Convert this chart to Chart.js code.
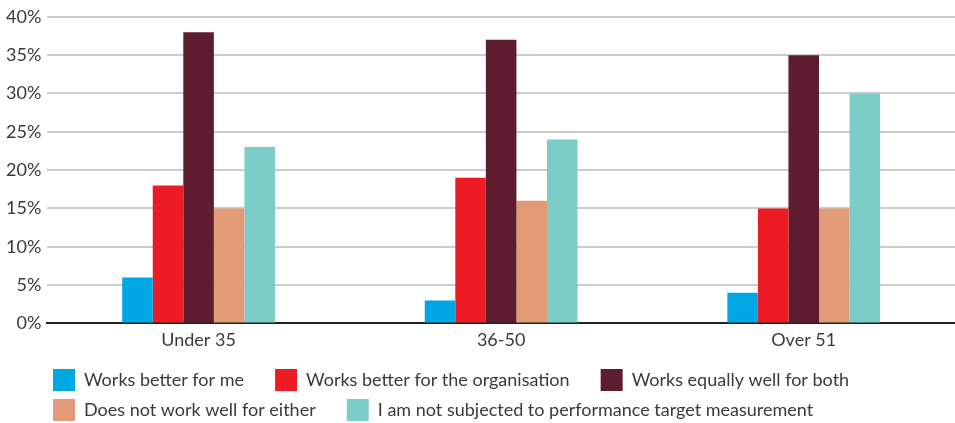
<!DOCTYPE html>
<html>
<head>
<meta charset="utf-8">
<script src="https://cdn.jsdelivr.net/npm/chart.js@4/dist/chart.umd.min.js"></script>
<style>
  html, body { margin: 0; padding: 0; background: #fff; }
  #wrap { width: 955px; height: 423px; }
</style>
</head>
<body>
<div id="wrap"><canvas id="chart"></canvas></div>
<script>
const categories = ["Under 35", "36-50", "Over 51"];
const seriesNames = [
  "Works better for me",
  "Works better for the organisation",
  "Works equally well for both",
  "Does not work well for either",
  "I am not subjected to performance target measurement"
];
const betterForMe = [6, 3, 4];
const betterForOrg = [18, 19, 15];
const equallyWell = [38, 37, 35];
const notForEither = [15, 16, 15];
const notSubjected = [23, 24, 30];
const yTicks = [0, 5, 10, 15, 20, 25, 30, 35, 40];

const colors = ["#00a8e3", "#ed1c24", "#5e1d2e", "#e39a76", "#7ccdc8"];
const values = [betterForMe, betterForOrg, equallyWell, notForEither, notSubjected];

const fontFamily = "Lato, 'Open Sans', sans-serif";
const textColor = "#3a3a3a";

// move the legend block right/down so it lines up like the original
const legendShift = {
  id: "legendShift",
  afterLayout(chart) {
    chart.legend.left += 45;
    chart.legend.top += 4;
    chart.legend.bottom += 4;
  }
};

new Chart(document.getElementById("chart"), {
  type: "bar",
  data: {
    labels: categories,
    datasets: seriesNames.map((name, i) => ({
      label: name,
      data: values[i],
      backgroundColor: colors[i],
      borderWidth: 0,
      categoryPercentage: 0.505,
      barPercentage: 1
    }))
  },
  plugins: [legendShift],
  options: {
    responsive: true,
    maintainAspectRatio: false,
    animation: false,
    layout: { padding: { left: 0, right: 0, top: 15, bottom: -4 } },
    plugins: {
      legend: {
        position: "bottom",
        align: "start",
        labels: {
          boxWidth: 22,
          boxHeight: 22,
          padding: 8,
          color: textColor,
          font: { family: fontFamily, size: 18 },
          generateLabels: chart => Chart.defaults.plugins.legend.labels.generateLabels(chart)
            .map(l => ({ ...l, text: l.text + "     " }))
        }
      },
      tooltip: { enabled: false }
    },
    scales: {
      x: {
        grid: { display: false, drawTicks: false },
        border: { color: "#222", width: 2 },
        ticks: {
          color: textColor,
          padding: 6,
          font: { family: fontFamily, size: 18 }
        }
      },
      y: {
        min: 0,
        max: 40,
        afterBuildTicks: axis => { axis.ticks = yTicks.map(v => ({ value: v })); },
        grid: { color: "#cdcdcd", lineWidth: 2, drawTicks: false },
        border: { display: false },
        ticks: {
          color: textColor,
          padding: 6,
          callback: v => v + "%",
          font: { family: fontFamily, size: 18 }
        }
      }
    }
  }
});
</script>
</body>
</html>
